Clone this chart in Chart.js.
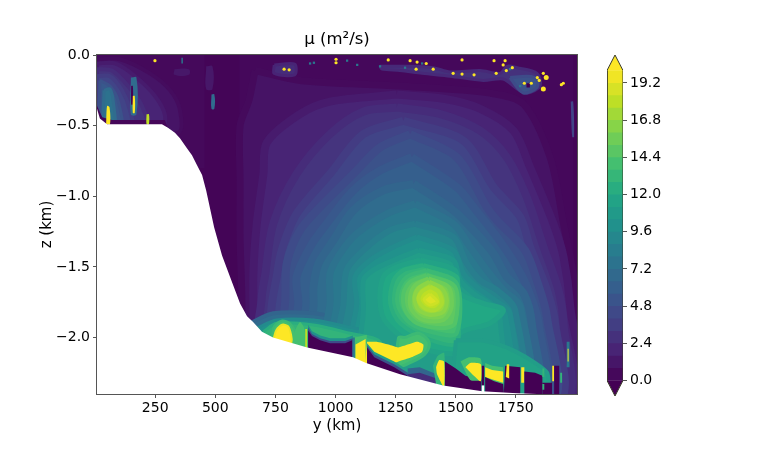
<!DOCTYPE html>
<html><head><meta charset="utf-8">
<style>html,body{margin:0;padding:0;background:#fff}canvas{position:absolute;top:0}</style>
<script src="https://cdn.jsdelivr.net/npm/chart.js@4"></script></head>
<body><canvas id="main" width="590" height="452" style="left:0"></canvas><canvas id="bar" width="185" height="452" style="left:590px"></canvas>
<script>
const titleText='μ (m²/s)', xTitle='y (km)', zTitle='z (km)';
const yTicks=[250,500,750,1000,1250,1500,1750];
const zTicks=[0,-0.5,-1,-1.5,-2];
const barTicks=[0,2.4,4.8,7.2,9.6,12,14.4,16.8,19.2];
const barLevels=[0,.8,1.6,2.4,3.2,4,4.8,5.6,6.4,7.2,8,8.8,9.6,10.4,11.2,12,12.8,13.6,14.4,15.2,16,16.8,17.6,18.4,19.2,20];
const viridis=['#440154','#482475','#414487','#355f8d','#2a788e','#21918c','#22a884','#44bf70','#7ad151','#bddf26','#fde725'];

// contour regions, [y km, z km]
const domain=[[8,0],[2005,0],[2005,-2.5],[8,-2.5]];
const shelfZone=[[8,0],[455,0],[455,-.8],[8,-.8]];
const basinZone=[[600,0],[1990,0],[1990,-2.5],[600,-2.5]];
const c1=[[665,-.11],[640,-.32],[603,-.5],[603,-.9],[603,-1.3],[610,-1.7],[610,-1.9],[610,-2.45],[2003,-2.45],[1997,-1.664],[1948,-1.194],[1892,-.724],[1782,-.348],[1643,-.27],[1268,-.22],[852,-.18]];
const c2=[[1255,-.28],[977,-.33],[850,-.42],[714,-.62],[700,-.842],[672,-1.2],[658,-1.558],[660,-2],[660,-2.45],[1990,-2.45],[1976,-1.782],[1948,-1.429],[1906,-1.194],[1809,-.795],[1740,-.536],[1600,-.38],[1450,-.31]];
const c3=[[1255,-.372],[1116,-.4],[977,-.56],[838,-.842],[741,-1.194],[707,-1.558],[693,-1.711],[686,-2.45],[1948,-2.45],[1948,-1.899],[1927,-1.664],[1865,-1.359],[1795,-1.006],[1712,-.724],[1601,-.536],[1440,-.42]];
const c4=[[1282,-.466],[1116,-.56],[977,-.842],[838,-1.124],[776,-1.382],[755,-1.57],[734,-1.782],[714,-2.45],[1920,-2.45],[1913,-1.899],[1879,-1.664],[1809,-1.359],[1768,-1.147],[1657,-.936],[1532,-.607]];
const c5=[[1310,-.56],[1185,-.654],[1074,-.842],[949,-1.053],[852,-1.241],[797,-1.476],[790,-1.758],[755,-2.45],[1892,-2.45],[1879,-1.852],[1837,-1.594],[1788,-1.382],[1671,-1.17],[1629,-1.077],[1504,-.724]];
const c6=[[1317,-.724],[1185,-.818],[1074,-.959],[963,-1.194],[894,-1.359],[838,-1.57],[845,-1.758],[811,-2.45],[1851,-2.45],[1844,-1.899],[1802,-1.664],[1754,-1.5],[1671,-1.288],[1574,-1.077],[1504,-.936]];
const c7=[[1324,-.912],[1199,-.959],[1074,-1.1],[991,-1.312],[929,-1.476],[908,-1.641],[908,-1.782],[866,-2.45],[1823,-2.45],[1816,-1.899],[1782,-1.688],[1712,-1.57],[1657,-1.406],[1574,-1.241],[1490,-1.1]];
const c8=[[1331,-1.053],[1213,-1.124],[1088,-1.265],[1019,-1.406],[977,-1.546],[977,-1.758],[935,-2.45],[1782,-2.45],[1768,-1.782],[1698,-1.664],[1629,-1.523],[1560,-1.359],[1490,-1.194]];
const c9=[[1331,-1.194],[1227,-1.241],[1116,-1.382],[1046,-1.523],[1033,-1.758],[991,-2.45],[1754,-2.45],[1747,-1.805],[1671,-1.664],[1601,-1.594],[1546,-1.476],[1490,-1.288]];
const c10=[[1338,-1.288],[1241,-1.359],[1144,-1.453],[1081,-1.57],[1088,-1.758],[1046,-2.45],[1726,-2.45],[1726,-1.829],[1664,-1.735],[1587,-1.641],[1532,-1.546],[1490,-1.382]];
const c11=[[1345,-1.382],[1241,-1.453],[1157,-1.523],[1116,-1.594],[1116,-1.782],[1116,-2.45],[1671,-2.45],[1684,-1.852],[1657,-1.782],[1574,-1.688],[1518,-1.594],[1490,-1.453]];
const c12=[[1352,-1.453],[1255,-1.5],[1199,-1.57],[1185,-1.758],[1213,-1.899],[1338,-2.064],[1504,-2.11],[1518,-1.97],[1643,-1.899],[1698,-1.805],[1615,-1.758],[1518,-1.688],[1497,-1.523]];
const c13=[[1365,-1.488],[1282,-1.523],[1241,-1.594],[1227,-1.758],[1268,-1.899],[1393,-2.017],[1504,-2.04],[1504,-1.711],[1504,-1.57]];
const c14=[[1379,-1.523],[1296,-1.57],[1261,-1.664],[1261,-1.782],[1310,-1.899],[1421,-1.97],[1504,-1.97],[1504,-1.617]];
const c15=[[1379,-1.558],[1310,-1.605],[1282,-1.688],[1289,-1.805],[1338,-1.899],[1449,-1.934],[1497,-1.899],[1497,-1.641]];
const c16=[[1386,-1.582],[1331,-1.629],[1310,-1.711],[1317,-1.805],[1365,-1.876],[1449,-1.876],[1483,-1.782],[1469,-1.641]];
const c17=[[1390,-1.605],[1345,-1.652],[1328,-1.723],[1345,-1.805],[1393,-1.84],[1449,-1.817],[1463,-1.735],[1442,-1.652]];
const c18=[[1393,-1.641],[1359,-1.676],[1345,-1.735],[1372,-1.793],[1414,-1.805],[1442,-1.758],[1428,-1.676]];
const c19=[[1393,-1.692],[1368,-1.73],[1393,-1.77],[1424,-1.746]];
const floor7=[[644,-1.899],[741,-1.829],[908,-1.829],[1046,-1.876],[1185,-1.946],[1185,-2.2],[644,-2.2]];
const floor10=[[672,-1.934],[755,-1.876],[908,-1.876],[1046,-1.923],[1185,-1.993],[1185,-2.2],[672,-2.2]];
const floor13=[[700,-1.958],[755,-1.899],[908,-1.911],[1060,-1.97],[1185,-2.028],[1185,-2.2],[700,-2.2]];

const left1=[[8,-.03],[104,-.03],[228,-.13],[312,-.25],[353,-.39],[345,-.55],[8,-.55]];
const left2=[[8,-.06],[83,-.06],[166,-.15],[249,-.29],[291,-.43],[270,-.55],[8,-.55]];
const left3=[[8,-.1],[70,-.11],[137,-.22],[195,-.36],[220,-.55],[8,-.55]];
const left4=[[8,-.15],[62,-.15],[112,-.25],[145,-.39],[153,-.55],[8,-.55]];
const left5=[[20,-.18],[62,-.22],[95,-.32],[112,-.55],[20,-.55]];
const left7=[[37,-.25],[62,-.24],[75,-.32],[83,-.55],[37,-.55]];
const shelfEdge=[[8,-.36],[30,-.44],[70,-.46],[290,-.46],[310,-.55],[8,-.55]];
const streak1=[[46,-.49],[50,-.36],[60,-.37],[62,-.49]];
const streak2a=[[149,-.16],[172,-.16],[172,-.42],[149,-.42]];
const streak2b=[[150,-.22],[157,-.22],[157,-.35],[150,-.35]];
const streak2c=[[157,-.29],[165,-.29],[165,-.41],[157,-.41]];
const streak3=[[214,-.42],[224,-.42],[224,-.49],[214,-.49]];
const streak4=[[484,-.28],[496,-.28],[496,-.38],[484,-.38]];
const streak5=[[359,-.02],[365,-.02],[365,-.06],[359,-.06]];
const faint1=[[330,-.1],[390,-.1],[390,-.14],[330,-.14]];
const faint2=[[462,-.08],[488,-.08],[488,-.24],[462,-.24]];

const band=[[1185,-.08],[1298,-.08],[1406,-.09],[1476,-.12],[1601,-.11],[1684,-.13],[1713,-.08],[1755,-.09],[1838,-.13],[1851,-.22],[1797,-.27],[1755,-.24],[1697,-.17],[1614,-.18],[1476,-.15],[1360,-.13],[1268,-.11],[1193,-.1]];
const bandCore=[[1726,-.16],[1797,-.15],[1838,-.17],[1838,-.23],[1785,-.27],[1755,-.23]];
const bandHole=[[1794,-.2],[1808,-.2],[1808,-.23],[1794,-.23]];
const bandLeft=[[745,-.07],[830,-.065],[830,-.14],[745,-.13]];
const wallStreak=[[1978,-.33],[1988,-.33],[1992,-.58],[1984,-.58]];

const haloA13=[[736,-2],[744,-1.92],[778,-1.88],[811,-1.9],[836,-1.97],[844,-2.06],[844,-2.2],[736,-2.2]];
const blobA=[[744,-2],[753,-1.95],[778,-1.91],[802,-1.92],[815,-1.98],[819,-2.05],[819,-2.2],[744,-2.2]];
const greenA=[[819,-2.05],[832,-1.95],[852,-1.89],[869,-1.93],[882,-2.09],[882,-2.2],[819,-2.2]];
const lineA=[[874,-1.94],[882,-1.94],[882,-2.09],[874,-2.09]];
const wedgeB10=[[886,-1.91],[902,-1.955],[936,-1.985],[977,-2.005],[1040,-2.005],[1072,-1.985],[1072,-2.3],[886,-2.3]];
const wedgeB5=[[886,-1.93],[902,-1.975],[936,-2.005],[977,-2.025],[1040,-2.025],[1072,-2.005],[1072,-2.3],[886,-2.3]];
const wedgeB=[[886,-1.95],[902,-1.99],[936,-2.02],[977,-2.04],[1040,-2.04],[1069,-2.02],[1069,-2.3],[886,-2.3]];
const stripeB=[[1071,-2],[1080,-2],[1080,-2.2],[1071,-2.2]];
const haloC=[[1080,-2.0],[1130,-1.98],[1130,-2.25],[1080,-2.25]];
const blobC=[[1083,-2.05],[1125,-2.01],[1125,-2.25],[1083,-2.25]];
const haloD13=[[1290,-2],[1340,-1.97],[1375,-2],[1390,-2.05],[1370,-2.12],[1320,-2.17],[1262,-2.2],[1262,-2]];
const blobD=[[1131,-2.03],[1170,-2.03],[1220,-2.05],[1260,-2.07],[1300,-2.05],[1340,-2.03],[1365,-2.05],[1360,-2.1],[1315,-2.14],[1262,-2.17],[1127,-2.25]];
const wedgeD12=[[1131,-2.04],[1161,-2.1],[1244,-2.17],[1300,-2.23],[1350,-2.28],[1350,-2.5],[1131,-2.5]];
const wedgeD6=[[1131,-2.055],[1161,-2.12],[1244,-2.19],[1300,-2.25],[1350,-2.3],[1350,-2.5],[1131,-2.5]];
const wedgeD=[[1131,-2.07],[1161,-2.14],[1244,-2.21],[1300,-2.27],[1350,-2.32],[1350,-2.5],[1131,-2.5]];
const stripG6=[[1300,-2.22],[1350,-2.21],[1420,-2.26],[1440,-2.3],[1440,-2.4],[1300,-2.4]];
const stripG3=[[1300,-2.26],[1350,-2.25],[1420,-2.29],[1440,-2.33],[1440,-2.4],[1300,-2.4]];
const haloE=[[1405,-2.2],[1425,-2.13],[1452,-2.11],[1452,-2.42],[1430,-2.42]];
const blobE=[[1418,-2.21],[1431,-2.16],[1451,-2.17],[1451,-2.35],[1422,-2.26]];
const right11=[[1500,-2.02],[1600,-2.02],[1680,-2.05],[1750,-2.1],[1830,-2.18],[1880,-2.25],[1880,-2.4],[1500,-2.4]];
const wedgeF=[[1455,-2.17],[1500,-2.22],[1540,-2.27],[1606,-2.3],[1606,-2.5],[1455,-2.5]];
const haloG=[[1520,-2.17],[1555,-2.14],[1604,-2.15],[1604,-2.3],[1560,-2.3]];
const blobG=[[1540,-2.21],[1560,-2.18],[1604,-2.19],[1604,-2.31],[1575,-2.27]];
const slitDark=[[1608,-2.2],[1618,-2.2],[1618,-2.34],[1608,-2.34]];
const slitWhite=[[1608,-2.34],[1618,-2.34],[1618,-2.5],[1608,-2.5]];
const haloH=[[1622,-2.18],[1651,-2.2],[1697,-2.21],[1697,-2.35],[1622,-2.35]];
const blobH=[[1622,-2.21],[1651,-2.23],[1697,-2.24],[1697,-2.32],[1660,-2.3],[1622,-2.28]];
const wedgeH=[[1622,-2.28],[1660,-2.31],[1697,-2.33],[1705,-2.5],[1622,-2.5]];
const wedgeI=[[1705,-2.2],[1768,-2.21],[1768,-2.5],[1697,-2.5]];
const blobJ=[[1708,-2.28],[1712,-2.19],[1722,-2.19],[1722,-2.29]];
const blobK=[[1772,-2.21],[1785,-2.21],[1785,-2.32],[1772,-2.32]];
const blobL=[[1789,-2.33],[1797,-2.33],[1797,-2.38],[1789,-2.38]];
const wedgeM=[[1785,-2.24],[1830,-2.25],[1860,-2.27],[1860,-2.5],[1785,-2.5]];
const wedgeM2=[[1860,-2.32],[1900,-2.32],[1900,-2.5],[1860,-2.5]];
const greenM=[[1860,-2.22],[1868,-2.22],[1868,-2.28],[1860,-2.28]];
const greenM2=[[1860,-2.33],[1868,-2.33],[1868,-2.37],[1860,-2.37]];
const blobN=[[1901,-2.2],[1909,-2.2],[1909,-2.31],[1901,-2.31]];
const wedgeO=[[1909,-2.2],[1930,-2.2],[1930,-2.5],[1909,-2.5]];
const blobP=[[1934,-2.25],[1942,-2.25],[1942,-2.32],[1934,-2.32]];
const wallTeal=[[1961,-2.03],[1973,-2.03],[1973,-2.21],[1961,-2.21]];
const wallYellow=[[1965,-2.08],[1969,-2.08],[1969,-2.17],[1965,-2.17]];
const seafloor=[[-50,-.38],[8,-.38],[20,-.45],[50,-.49],[278,-.49],[303,-.515],[332,-.55],[353,-.59],[382,-.66],[403,-.71],[424,-.78],[445,-.85],[462,-.96],[495,-1.22],[528,-1.42],[561,-1.57],[603,-1.76],[632,-1.85],[657,-1.89],[694,-1.96],[740,-2],[882,-2.07],[1073,-2.14],[1127,-2.18],[1268,-2.26],[1447,-2.34],[1610,-2.38],[1755,-2.395],[1921,-2.405],[1921,-2.6],[-50,-2.6]];

const spotsYellow=[[249,-.04],[786,-.1],[807,-.105],[1002,-.03],[1002,-.055],[1219,-.035],[1310,-.04],[1339,-.05],[1377,-.06],[1335,-.1],[1406,-.1],[1489,-.13],[1526,-.135],[1576,-.14],[1526,-.035],[1659,-.04],[1705,-.04],[1697,-.07],[1710,-.11],[1735,-.09],[1668,-.13],[1785,-.2],[1814,-.2],[1839,-.16],[1847,-.18],[1939,-.21],[1947,-.2],[1864,-.13]];
const spotsLarge=[[1876,-.16],[1864,-.24]];
const spotsTeal=[[1048,-.04],[1185,-.08],[894,-.06],[910,-.055],[1289,-.09],[1090,-.07],[1360,-.06],[1768,-.22],[1726,-.1]];

function col(v){const t=Math.min(1,Math.max(0,v/20))*10,i=Math.min(9,Math.floor(t)),f=t-i,
 h=s=>[1,3,5].map(k=>parseInt(s.substr(k,2),16)),a=h(viridis[i]),b=h(viridis[i+1]);
 return 'rgb('+a.map((c,k)=>Math.round(c+(b[k]-c)*f)).join(',')+')';}
function poly(pts,v,tension,edge){const d=pts.concat([pts[0]]).map(p=>({x:p[0],y:p[1]}));
 return {type:'scatter',data:d,showLine:true,fill:'shape',backgroundColor:col(v),borderColor:col(v-.5),borderWidth:edge||0,pointRadius:0,tension:tension||0};}
// painted in this order, later layers on top: [region, value, curve, soft edge]
const layers=[[domain,.2],[shelfZone,.45],[basinZone,.4],
 [c1,1,.3,7],[c2,2,.3,8],[c3,3,.3,8],[c4,4,.3,8],[c5,5,.3,8],[c6,6,.3,8],[c7,7,.3,8],[floor7,7,.3,4],[c8,8,.3,7],[c9,9,.3,6],[c10,10,.3,5],[floor10,10,.3,3],[c11,11,.3,5],
 [c12,12,.3,5],[c13,13,.3,4],[floor13,13,.3,3],[c14,14,.3,4],[c15,15,.3,4],[c16,16,.3,4],[c17,17,.3,4],[c18,18,.3,4],[c19,19,.3,3],
 [left1,1.1,.3,4],[left2,2,.3,4],[left3,3,.3,4],[left4,4,.3,4],[left5,5.5,.3,3],[left7,7.5,.3,3],[shelfEdge,.3],[streak1,20,.3],[streak2a,7,.4],[streak2b,0,.3],[streak2c,20,.3],[streak3,18,.3],[streak4,7,.4],[streak5,8],[faint1,1.3,.4],[faint2,1.3,.4],
 [band,2.8,.3,3],[bandLeft,2.5,.3,3],[bandCore,5,.3,3],[bandHole,0],[wallStreak,4,.3],
 [haloA13,14,.3,2],[blobA,20,.3,2],[greenA,14,.2],[lineA,18],
 [haloC,14],[haloD13,14,.3,3],[blobC,20],[blobD,20,.2],
 [wedgeB10,10],[wedgeB5,4.5],[wedgeB,0],[stripeB,8],[wedgeD12,11],[wedgeD6,5],[wedgeD,0],
 [stripG6,6.5],[stripG3,2.5],[right11,11.5,.2,4],[haloE,13,.2],[blobE,20,.2],
 [wedgeF,0],[haloG,14,.2],[blobG,20,.2],[haloH,14],[blobH,20],[wedgeH,0],[wedgeI,0],[slitDark,0],[blobJ,20],[blobK,20],[blobL,20],[wedgeM,0],[wedgeM2,0],[greenM,13],[greenM2,13],[blobN,20],[wedgeO,0],[blobP,13],[wallTeal,8],[wallYellow,20]];
const ds=layers.map(l=>poly(l[0],l[1],l[2],l[3]));
ds.push({type:'scatter',data:spotsTeal.map(p=>({x:p[0],y:p[1]})),pointStyle:'rect',pointRadius:1.6,borderWidth:0,backgroundColor:col(8)});
ds.push({type:'scatter',data:spotsYellow.map(p=>({x:p[0],y:p[1]})),pointStyle:'circle',pointRadius:1.6,borderWidth:0,backgroundColor:col(20)});
ds.push({type:'scatter',data:spotsLarge.map(p=>({x:p[0],y:p[1]})),pointStyle:'circle',pointRadius:2.5,borderWidth:0,backgroundColor:col(20)});
ds.push(poly(seafloor,20));ds[ds.length-1].backgroundColor='#ffffff';
ds.push(poly(slitWhite,20));ds[ds.length-1].backgroundColor='#ffffff';
ds.reverse();

const font={family:'"DejaVu Sans"',size:14};
const frame={id:'frame',afterDraw(c){const a=c.chartArea,x=c.ctx;x.save();x.strokeStyle='#555';x.lineWidth=1;x.strokeRect(a.left-.5,a.top-.5,a.width+1,a.height+1);x.restore();}};
new Chart(document.getElementById('main'),{type:'scatter',data:{datasets:ds},plugins:[frame],
 options:{responsive:false,animation:false,events:[],layout:{padding:{left:0,right:13,top:0,bottom:0}},
  plugins:{legend:{display:false},tooltip:{enabled:false},
   title:{display:true,text:titleText,fullSize:false,color:'#000',font:{family:'"DejaVu Sans"',size:16.5,weight:'normal'},padding:{top:29.5,bottom:5.7}}},
  scales:{
   x:{min:8,max:2004,afterBuildTicks:s=>{s.ticks=yTicks.map(v=>({value:v}))},afterFit:s=>{s.height=58},
    grid:{drawOnChartArea:false,tickLength:4,tickColor:'#555'},border:{color:'#555'},
    ticks:{color:'#000',font,padding:2,autoSkip:false,maxRotation:0,callback:v=>String(v)},
    title:{display:true,text:xTitle,color:'#000',font:{family:'"DejaVu Sans"',size:15},padding:{top:0,bottom:17}}},
   y:{min:-2.4,max:0,afterBuildTicks:s=>{s.ticks=zTicks.map(v=>({value:v}))},afterFit:s=>{s.width=97},
    grid:{drawOnChartArea:false,tickLength:4,tickColor:'#555'},border:{color:'#555'},
    ticks:{color:'#000',font,padding:3,autoSkip:false,callback:v=>v.toFixed(1).replace('-','\u2212')},
    title:{display:true,text:zTitle,color:'#000',font:{family:'"DejaVu Sans"',size:15},padding:{top:38,bottom:0}}}}}});

// colour bar
const barDs=[];
for(let i=barLevels.length-2;i>=0;i--){const a=barLevels[i],b=barLevels[i+1];
 const top=i===barLevels.length-2?b:b+.06;
 barDs.push(poly([[0,a],[1,a],[1,top],[0,top]],(a+b)/2));}
barDs.push(poly([[0,0.02],[.5,-1],[1,0.02]],0));
barDs.push(poly([[0,19.98],[.5,21],[1,19.98]],20));
const outline=[[0,0],[.5,-1],[1,0],[1,20],[.5,21],[0,20],[0,0]];
barDs.unshift({type:'scatter',data:outline.map(p=>({x:p[0],y:p[1]})),showLine:true,borderColor:'#3a3a2a',borderWidth:1,pointRadius:0,fill:false});
new Chart(document.getElementById('bar'),{type:'scatter',data:{datasets:barDs},
 options:{responsive:false,animation:false,events:[],layout:{padding:{left:17,right:100,top:55,bottom:56}},
  plugins:{legend:{display:false},tooltip:{enabled:false},title:{display:false}},
  scales:{x:{display:false,min:0,max:1},
   y:{position:'right',min:-1,max:21,afterBuildTicks:s=>{s.ticks=barTicks.map(v=>({value:v}))},afterFit:s=>{s.width=52},
    grid:{drawOnChartArea:false,tickLength:4,tickColor:'#555'},border:{display:false},
    ticks:{color:'#000',font,padding:3,autoSkip:false,callback:v=>v.toFixed(1)}}}}});
</script></body></html>
